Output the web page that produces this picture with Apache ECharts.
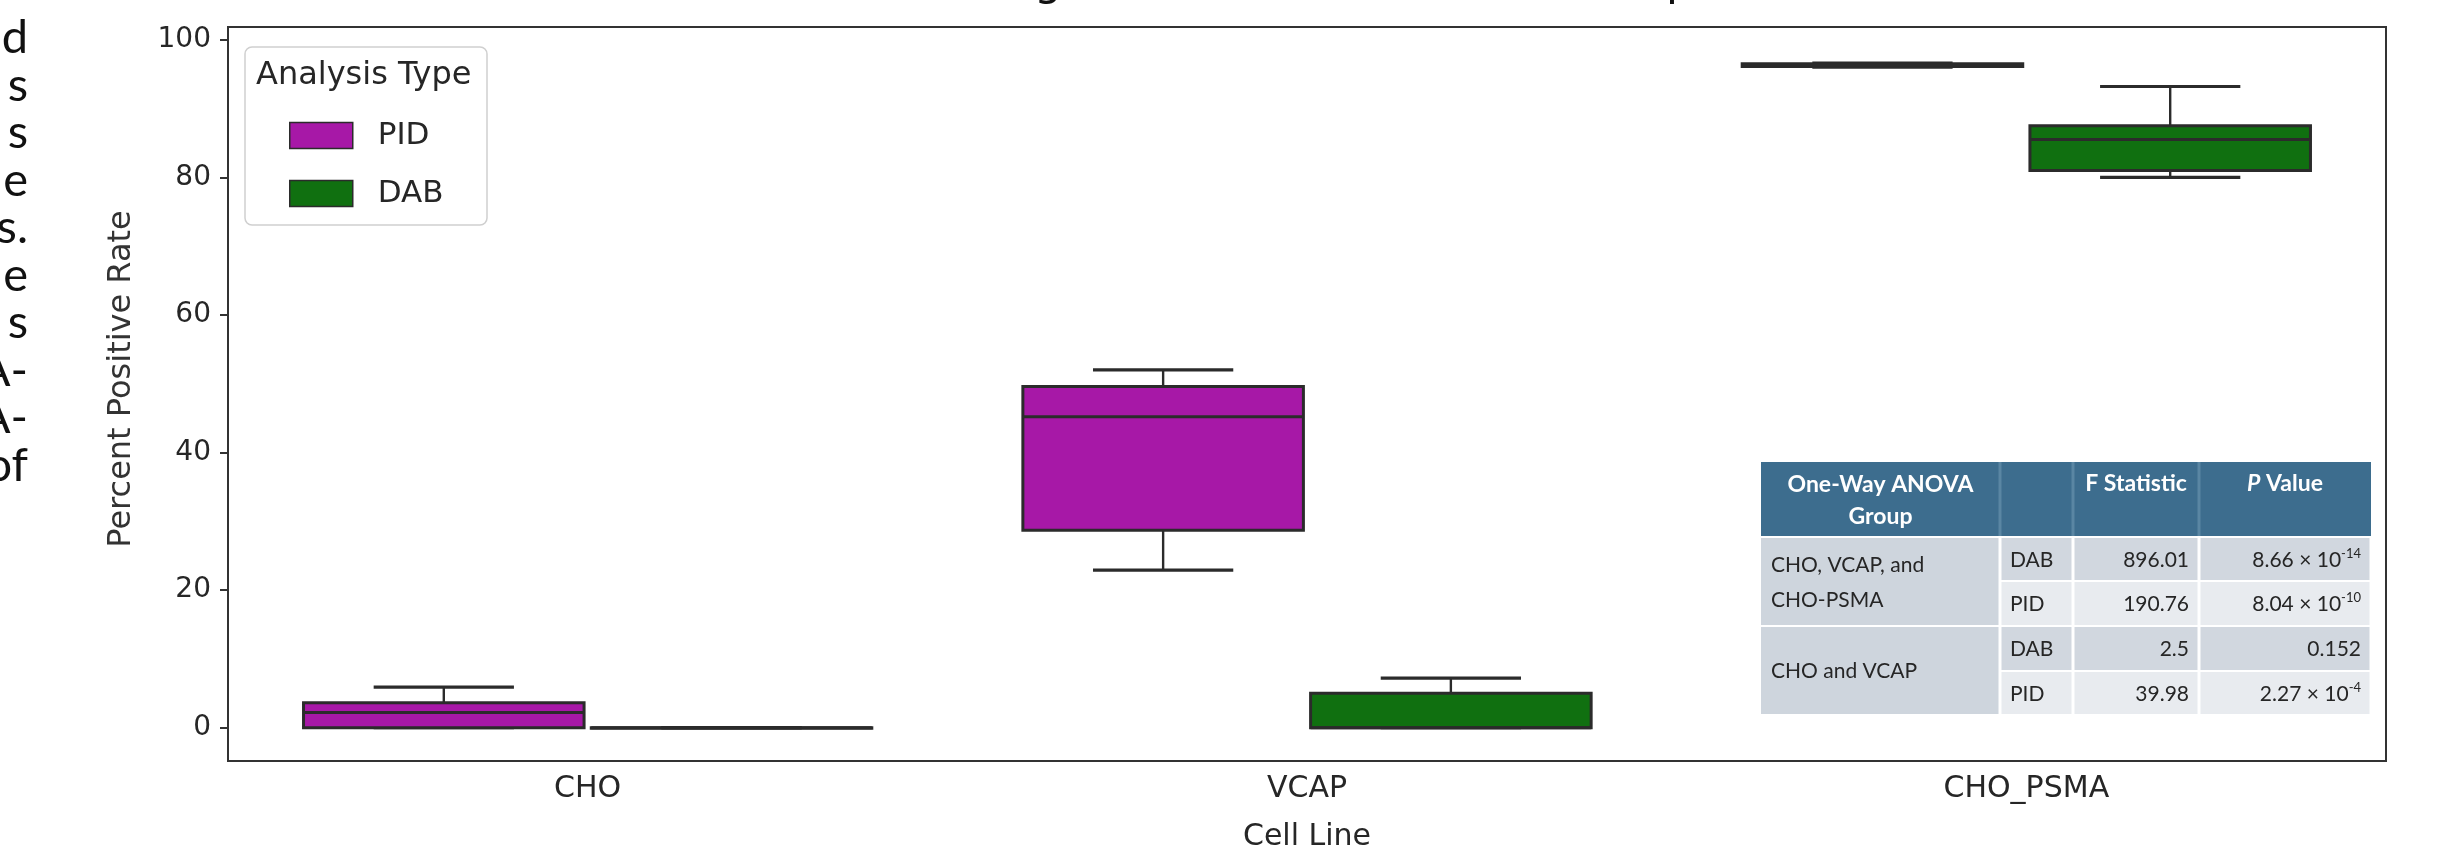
<!DOCTYPE html>
<html>
<head>
<meta charset="utf-8">
<script src="https://cdn.jsdelivr.net/npm/echarts@6/dist/echarts.min.js"></script>
<style>
  html, body { margin: 0; padding: 0; background: #fff; }
  #box { width: 2437px; height: 859px; }
</style>
</head>
<body>
<div id="box"></div>
<script>
  // data
  const cellLines = ['CHO', 'VCAP', 'CHO_PSMA'];
  const yTicks = [0, 20, 40, 60, 80, 100];
  // [min, q1, median, q3, max] per cell line
  const pidBoxes = [
    [0, 0, 2.2, 3.6, 5.9],
    [22.9, 28.7, 45.2, 49.6, 52.0],
    [96.0, 96.1, 96.3, 96.5, 96.6]
  ];
  const dabBoxes = [
    [0, 0, 0, 0, 0],
    [0, 0, 0, 5.0, 7.2],
    [80.0, 81.0, 85.5, 87.5, 93.2]
  ];
  const tableHeader = ['One-Way ANOVA\nGroup', '', 'F Statistic', '{i|P} Value'];
  const tableGroups = ['CHO, VCAP, and\nCHO-PSMA', 'CHO and VCAP'];
  const tableTypes = ['DAB', 'PID', 'DAB', 'PID'];
  const tableF = ['896.01', '190.76', '2.5', '39.98'];
  const tableP = ['8.66 × 10{s|-14}', '8.04 × 10{s|-10}', '0.152', '2.27 × 10{s|-4}'];
  const sideText = ['d', 's', 's', 'e', 's.', 'e', 's', 'A-', 'A-', 'of'];

  const PID_COLOR = '#a718a7';
  const DAB_COLOR = '#107010';
  const EDGE = '#2b2b2b';
  const FONT = 'DejaVu Sans';

  let chart = echarts.init(document.getElementById('box'));

  function toData(boxes) {
    return boxes.map(function (b, i) { return [i].concat(b); });
  }

  function boxRender(side) {
    return function (params, api) {
      let cat = api.value(0);
      let band = api.size([1, 0])[0];
      let cx = api.coord([cat, 0])[0] + side * band * 0.2;
      let w = band * 0.39;
      let y = [1, 2, 3, 4, 5].map(function (k) { return api.coord([cat, api.value(k)])[1]; });
      let line = { stroke: EDGE, lineWidth: 2.4 };
      return {
        type: 'group',
        children: [
          { type: 'line', shape: { x1: cx, y1: y[0], x2: cx, y2: y[1] }, style: line },
          { type: 'line', shape: { x1: cx, y1: y[3], x2: cx, y2: y[4] }, style: line },
          { type: 'line', shape: { x1: cx - w / 4, y1: y[0], x2: cx + w / 4, y2: y[0] }, style: { stroke: EDGE, lineWidth: 3.2 } },
          { type: 'line', shape: { x1: cx - w / 4, y1: y[4], x2: cx + w / 4, y2: y[4] }, style: { stroke: EDGE, lineWidth: 3.2 } },
          { type: 'rect', shape: { x: cx - w / 2, y: y[3], width: w, height: Math.max(y[1] - y[3], 0.5) },
            style: { fill: api.visual('color'), stroke: EDGE, lineWidth: 3 } },
          { type: 'line', shape: { x1: cx - w / 2, y1: y[2], x2: cx + w / 2, y2: y[2] }, style: { stroke: EDGE, lineWidth: 3 } }
        ]
      };
    };
  }

  // ANOVA table drawn with graphic elements
  const colEdges = [1761, 2000, 2073, 2199, 2371];
  const rowEdges = [462, 538, 582, 627, 672, 716];
  let table = [];
  table.push({ type: 'rect', shape: { x: colEdges[0], y: rowEdges[0], width: colEdges[4] - colEdges[0], height: rowEdges[1] - rowEdges[0] - 2 },
    style: { fill: '#3d6d8e' } });
  for (let c = 1; c < 4; c++) {
    table.push({ type: 'rect', shape: { x: colEdges[c] - 1.5, y: rowEdges[0], width: 3, height: rowEdges[1] - rowEdges[0] - 2 },
      style: { fill: '#5a86a3' } });
  }
  tableHeader.forEach(function (t, c) {
    if (!t) return;
    table.push({ type: 'text', x: (colEdges[c] + colEdges[c + 1]) / 2, y: c === 0 ? 501 : 484,
      style: { text: t, fill: '#fff', font: 'bold 23px Lato', align: 'center', verticalAlign: 'middle', lineHeight: 32,
        rich: { i: { fontStyle: 'italic', fontWeight: 'bold', fontSize: 23, fontFamily: 'Lato', fill: '#fff' } } } });
  });
  tableGroups.forEach(function (g, k) {
    let top = rowEdges[1 + 2 * k], bot = rowEdges[3 + 2 * k];
    table.push({ type: 'rect', shape: { x: colEdges[0], y: top, width: colEdges[1] - colEdges[0] - 1.5, height: bot - top - 2 },
      style: { fill: '#ced5dd' } });
    table.push({ type: 'text', x: colEdges[0] + 10, y: (top + bot) / 2,
      style: { text: g, fill: '#262626', font: '21px Lato', align: 'left', verticalAlign: 'middle', lineHeight: 35 } });
  });
  tableTypes.forEach(function (t, r) {
    let top = rowEdges[r + 1], bot = rowEdges[r + 2];
    let fill = t === 'DAB' ? '#d1d7df' : '#e8ebef';
    for (let c = 1; c < 4; c++) {
      table.push({ type: 'rect', shape: { x: colEdges[c] + 1.5, y: top, width: colEdges[c + 1] - colEdges[c] - 3, height: bot - top - 2 },
        style: { fill: fill } });
    }
    let cy = (top + bot) / 2;
    table.push({ type: 'text', x: colEdges[1] + 10, y: cy,
      style: { text: t, fill: '#262626', font: '21px Lato', align: 'left', verticalAlign: 'middle' } });
    table.push({ type: 'text', x: colEdges[3] - 10, y: cy,
      style: { text: tableF[r], fill: '#262626', font: '21px Lato', align: 'right', verticalAlign: 'middle' } });
    table.push({ type: 'text', x: colEdges[4] - 10, y: cy,
      style: { text: tableP[r], fill: '#262626', font: '21px Lato', align: 'right', verticalAlign: 'middle', lineHeight: 26,
        rich: { s: { fontSize: 13, fontFamily: 'Lato', fill: '#262626', verticalAlign: 'top', lineHeight: 26 } } } });
  });

  // clipped text of the neighbouring page
  let side = sideText.map(function (t, i) {
    return { type: 'text', x: 28, y: 38 + i * 47.5,
      style: { text: t, fill: '#111', font: '47px Lato', align: 'right', verticalAlign: 'middle' } };
  });

  let option = {
    animation: false,
    backgroundColor: '#fff',
    grid: { left: 228, right: 51, top: 27, bottom: 98, show: true, borderColor: '#333', borderWidth: 2 },
    legend: {
      orient: 'vertical', left: 289, top: 120, itemWidth: 63, itemHeight: 26, itemGap: 27, padding: 0,
      icon: 'rect', z: 20,
      itemStyle: { borderColor: EDGE, borderWidth: 1.5 },
      textStyle: { fontFamily: FONT, fontSize: 31, color: '#262626', lineHeight: 26, padding: [0, 0, 0, 20] },
      data: ['PID', 'DAB']
    },
    xAxis: {
      type: 'category', data: cellLines,
      axisLine: { onZero: false, lineStyle: { color: '#333', width: 2 } },
      axisTick: { alignWithLabel: true, length: 8, lineStyle: { color: '#333', width: 2 } },
      axisLabel: { fontFamily: FONT, fontSize: 30, color: '#262626', margin: 13 },
      name: 'Cell Line', nameLocation: 'middle', nameGap: 61,
      nameTextStyle: { fontFamily: FONT, fontSize: 30, color: '#262626' }
    },
    yAxis: {
      type: 'value', min: -4.85, max: 101.85,
      splitLine: { show: false },
      axisLine: { show: true, lineStyle: { color: '#333', width: 2 } },
      axisTick: { show: true, length: 8, customValues: yTicks, lineStyle: { color: '#333', width: 2 } },
      axisLabel: { fontFamily: FONT, fontSize: 28, color: '#262626', margin: 17, customValues: yTicks },
      name: 'Percent Positive Rate', nameLocation: 'middle', nameGap: 90,
      nameTextStyle: { fontFamily: FONT, fontSize: 32, color: '#333', padding: [0, 0, 0, 30] }
    },
    series: [
      { name: 'PID', type: 'custom', renderItem: boxRender(-1), itemStyle: { color: PID_COLOR },
        encode: { x: 0, y: [1, 2, 3, 4, 5] }, data: toData(pidBoxes) },
      { name: 'DAB', type: 'custom', renderItem: boxRender(1), itemStyle: { color: DAB_COLOR },
        encode: { x: 0, y: [1, 2, 3, 4, 5] }, data: toData(dabBoxes) }
    ],
    graphic: [
      { type: 'rect', z: 10, shape: { x: 245, y: 47, width: 242, height: 178, r: 7 },
        style: { fill: 'rgba(255,255,255,0.85)', stroke: '#cfcfcf', lineWidth: 1.5 } },
      { type: 'text', z: 11, x: 256, y: 76,
        style: { text: 'Analysis Type', fill: '#262626', font: '32px "DejaVu Sans"', verticalAlign: 'middle' } },
      { type: 'text', x: 1048, y: -16,
        style: { text: 'g', fill: '#111', font: '44px "DejaVu Sans"', align: 'center', verticalAlign: 'middle' } },
      { type: 'text', x: 1666, y: -16,
        style: { text: 'p', fill: '#111', font: '44px "DejaVu Sans"', align: 'left', verticalAlign: 'middle' } },
      { type: 'group', z: 30, children: table },
      { type: 'group', children: side }
    ]
  };

  chart.setOption(option);
</script>
</body>
</html>
